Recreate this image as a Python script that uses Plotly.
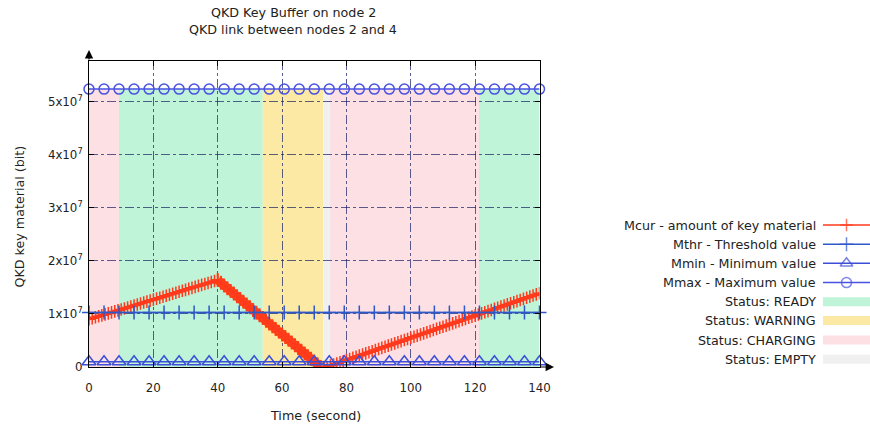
import plotly.graph_objects as go

# ---------------- data ----------------
title_lines = ["QKD Key Buffer on node 2", "QKD link between nodes 2 and 4"]
x_title = "Time (second)"
y_title = "QKD key material (bit)"

x_ticks = [0, 20, 40, 60, 80, 100, 120, 140]
y_ticks = [0, 1e7, 2e7, 3e7, 4e7, 5e7]
y_ticktext = ["0", "1x10<sup>7</sup>", "2x10<sup>7</sup>", "3x10<sup>7</sup>",
              "4x10<sup>7</sup>", "5x10<sup>7</sup>"]

# Mcur: amount of key material, one sample per second (values in 1e6 bit)
mcur_t = list(range(0, 141))
mcur_mbit = [
    9.00, 9.19, 9.37, 9.56, 9.74, 9.93, 10.11, 10.30, 10.48, 10.67,
    10.85, 11.04, 11.22, 11.41, 11.59, 11.78, 11.96, 12.15, 12.33, 12.52,
    12.70, 12.89, 13.07, 13.26, 13.44, 13.63, 13.81, 14.00, 14.18, 14.37,
    14.55, 14.74, 14.92, 15.11, 15.29, 15.48, 15.66, 15.85, 16.03, 16.22,
    16.40, 15.89, 15.38, 14.86, 14.35, 13.84, 13.33, 12.81, 12.30, 11.79,
    11.28, 10.76, 10.25, 9.74, 9.23, 8.71, 8.20, 7.69, 7.18, 6.66,
    6.15, 5.64, 5.13, 4.61, 4.10, 3.59, 3.08, 2.56, 2.05, 1.54,
    1.03, 0.51, 0.00, 0.00, 0.00, 0.25, 0.46, 0.67, 0.88, 1.09,
    1.30, 1.51, 1.72, 1.93, 2.14, 2.35, 2.56, 2.77, 2.98, 3.19,
    3.40, 3.61, 3.82, 4.03, 4.24, 4.45, 4.66, 4.87, 5.08, 5.29,
    5.50, 5.71, 5.92, 6.13, 6.34, 6.55, 6.76, 6.97, 7.18, 7.39,
    7.60, 7.81, 8.02, 8.23, 8.44, 8.65, 8.86, 9.07, 9.28, 9.49,
    9.70, 9.91, 10.12, 10.33, 10.54, 10.75, 10.96, 11.17, 11.38, 11.59,
    11.80, 12.01, 12.22, 12.43, 12.64, 12.85, 13.06, 13.27, 13.48, 13.69,
    13.90,
]
# index range of the consumption (falling) phase of Mcur
fall_first, fall_last = 40, 72

# constant reference levels, sampled at the marker times
level_t = [0, 4.67, 9.33, 14, 18.67, 23.33, 28, 32.67, 37.33, 42, 46.67,
           51.33, 56, 60.67, 65.33, 70, 74.67, 79.33, 84, 88.67, 93.33, 98,
           102.67, 107.33, 112, 116.67, 121.33, 126, 130.67, 135.33, 140]
MTHR = 1.03e7
MMIN = 1.0e6
MMAX = 5.24e7
Y_MAX = 5.77e7

series_names = ["Mcur - amount of key material", "Mthr - Threshold value",
                "Mmin - Minimum value", "Mmax - Maximum value"]

# status intervals
status_start = [0, 9.3, 54.0, 72.8, 74.8, 121.2]
status_end = [9.3, 54.0, 72.8, 74.8, 121.2, 140]
status_kind = ["CHARGING", "READY", "WARNING", "EMPTY", "CHARGING", "READY"]
status_legend = ["READY", "WARNING", "CHARGING", "EMPTY"]

# ---------------- styles ----------------
FONT = "DejaVu Sans"
TXT = "#222222"
FS_TEXT = 12.7
FS_TICK = 11.8
C_CUR = "#ff3a1c"
C_FALL = "#ff4a14"
C_THR = "#2e57c8"
C_MIN = "#3c4fd6"
C_MAX = "#4a52e2"
STATUS_COLOR = {"READY": "#bff4d8", "WARNING": "#fce9a4",
                "CHARGING": "#fde0e4", "EMPTY": "#f0f0f0"}
GRID = "rgba(20,30,100,0.7)"

# pixel geometry (figure 870x428); plot area x: 89..539, y: 61..367
L, T, B = 89, 61, 61
PW = 870 - L                    # width of the paper area
PLOT_W = 450.5
PH = 428 - T - B                # height of the paper area


def px_x(px):
    return (px - L) / PW


def px_y(py):
    return (428 - B - py) / PH


fig = go.Figure()

mcur = [v * 1e6 for v in mcur_mbit]
# falling phase drawn as a dense thick band
fig.add_trace(go.Scatter(
    x=mcur_t[fall_first:fall_last + 1], y=mcur[fall_first:fall_last + 1],
    mode="lines+markers", name=series_names[0],
    line=dict(color=C_FALL, width=9),
    marker=dict(symbol="cross-thin-open", size=10, line=dict(color=C_FALL, width=2)),
    showlegend=False))
fig.add_trace(go.Scatter(
    x=mcur_t, y=mcur, mode="lines+markers", name=series_names[0],
    line=dict(color=C_CUR, width=2.5),
    marker=dict(symbol="cross-thin-open", size=9, line=dict(color=C_CUR, width=1.5)),
    showlegend=False))
fig.add_trace(go.Scatter(
    x=level_t, y=[MTHR] * len(level_t), mode="lines+markers", name=series_names[1],
    line=dict(color=C_THR, width=1.5), cliponaxis=False,
    marker=dict(symbol="cross-thin-open", size=10, line=dict(color=C_THR, width=1.5)),
    showlegend=False))
fig.add_trace(go.Scatter(
    x=level_t, y=[MMIN] * len(level_t), mode="lines+markers", name=series_names[2],
    line=dict(color=C_MIN, width=1.5), cliponaxis=False,
    marker=dict(symbol="triangle-up-open", size=12, line=dict(color=C_MIN, width=1.5)),
    showlegend=False))
fig.add_trace(go.Scatter(
    x=level_t, y=[MMAX] * len(level_t), mode="lines+markers", name=series_names[3],
    line=dict(color=C_MAX, width=1.5), cliponaxis=False,
    marker=dict(symbol="circle-open", size=10, line=dict(color=C_MAX, width=1.5)),
    showlegend=False))

shapes = []
for s0, s1, k in zip(status_start, status_end, status_kind):
    shapes.append(dict(type="rect", xref="x", yref="y", x0=s0, x1=s1, y0=0, y1=MMAX,
                       fillcolor=STATUS_COLOR[k], line=dict(width=0), layer="below"))

# ---------------- custom legend (symbols on the right of the text) ----------------
legend_rows = [225, 244.3, 263.3, 282.6, 301.7, 320.6, 340, 359.3]
leg_styles = [
    (C_CUR, "cross-thin-open", 9),
    (C_THR, "cross-thin-open", 10),
    (C_MIN, "triangle-up-open", 11),
    (C_MAX, "circle-open", 10),
]
annotations = []
for i, (col, sym, sz) in enumerate(leg_styles):
    r = legend_rows[i]
    fig.add_trace(go.Scatter(
        x=[0, 0.5, 1], y=[r, r, r], xaxis="x2", yaxis="y2", mode="lines+markers",
        line=dict(color=col, width=1.5), cliponaxis=False,
        marker=dict(symbol=sym, size=[0, sz, 0], line=dict(color=col, width=1.5)),
        showlegend=False, hoverinfo="skip"))
    annotations.append(dict(text=series_names[i], xref="paper", yref="y2",
                            x=px_x(818), y=r, xanchor="right", yanchor="middle",
                            showarrow=False, font=dict(size=FS_TEXT, color=TXT, family=FONT)))
for j, k in enumerate(status_legend):
    r = legend_rows[4 + j]
    shapes.append(dict(type="rect", xref="x2", yref="y2", x0=0, x1=1, y0=r - 4.5, y1=r + 4.5,
                       fillcolor=STATUS_COLOR[k], line=dict(width=0)))
    annotations.append(dict(text="Status: " + k, xref="paper", yref="y2",
                            x=px_x(818), y=r, xanchor="right", yanchor="middle",
                            showarrow=False, font=dict(size=FS_TEXT, color=TXT, family=FONT)))

# titles
annotations.append(dict(text=title_lines[0], xref="paper", yref="paper",
                        x=px_x(293), y=px_y(13), xanchor="center", yanchor="middle",
                        showarrow=False, font=dict(size=FS_TEXT, color=TXT, family=FONT)))
annotations.append(dict(text=title_lines[1], xref="paper", yref="paper",
                        x=px_x(293), y=px_y(30), xanchor="center", yanchor="middle",
                        showarrow=False, font=dict(size=FS_TEXT, color=TXT, family=FONT)))
annotations.append(dict(text=x_title, xref="paper", yref="paper",
                        x=px_x(315), y=px_y(416), xanchor="center", yanchor="middle",
                        showarrow=False, font=dict(size=FS_TEXT, color=TXT, family=FONT)))
annotations.append(dict(text=y_title, xref="paper", yref="paper", textangle=-90,
                        x=px_x(18.5), y=px_y(217), xanchor="center", yanchor="middle",
                        showarrow=False, font=dict(size=FS_TEXT, color=TXT, family=FONT)))
# axis arrows
annotations.append(dict(text="", xref="paper", yref="paper", x=0, y=px_y(50),
                        ax=0, ay=11, showarrow=True, arrowhead=2, arrowsize=1.4,
                        arrowwidth=1.2, arrowcolor="black"))
annotations.append(dict(text="", xref="paper", yref="paper", x=px_x(554), y=0,
                        ax=-15, ay=0, showarrow=True, arrowhead=2, arrowsize=1.4,
                        arrowwidth=1.2, arrowcolor="black"))

axis_common = dict(showline=True, linecolor="black", linewidth=1, mirror="ticks",
                   ticks="inside", ticklen=5, tickcolor="black", tickwidth=1,
                   showgrid=True, gridcolor=GRID, gridwidth=1, griddash="dashdot",
                   zeroline=False, automargin=False,
                   tickfont=dict(size=FS_TICK, color=TXT, family=FONT))

fig.update_layout(
    template="none",
    width=870, height=428, autosize=False,
    margin=dict(l=L, r=0, t=T, b=B, pad=0, autoexpand=False),
    paper_bgcolor="white", plot_bgcolor="rgba(0,0,0,0)",
    font=dict(family=FONT, size=FS_TICK, color=TXT),
    showlegend=False,
    xaxis=dict(domain=[0, PLOT_W / PW], range=[0, 140], tickvals=x_ticks,
               ticklabelstandoff=10, **axis_common),
    yaxis=dict(range=[0, Y_MAX], tickvals=y_ticks, ticktext=y_ticktext,
               ticklabelstandoff=3, **axis_common),
    xaxis2=dict(domain=[px_x(823), 1], range=[0, 1], visible=False, anchor="y2",
                automargin=False),
    yaxis2=dict(domain=[0, 1], range=[428 - B, T], visible=False, anchor="x2",
                automargin=False),
    shapes=shapes,
    annotations=annotations,
)

fig.write_html("out.html")
